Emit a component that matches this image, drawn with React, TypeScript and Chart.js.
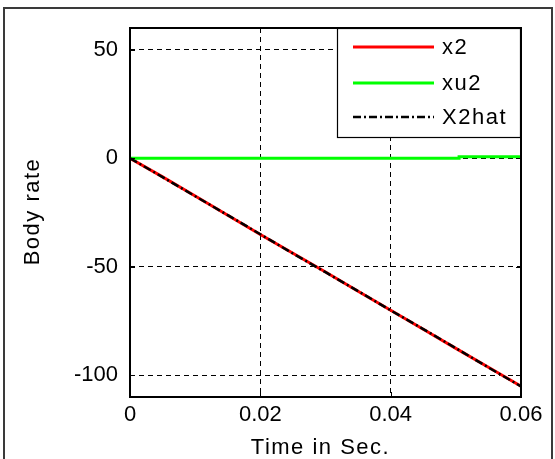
import React, { useEffect, useRef } from "react";
import { Chart, registerables } from "chart.js";

Chart.register(...registerables);

// ---- data ----
const timeX2 = [0, 0.005, 0.01, 0.015, 0.02, 0.025, 0.03, 0.035, 0.04, 0.045, 0.05, 0.055, 0.06];
const x2Values = [0, -8.6, -17.4, -26.3, -35.1, -43.8, -52.4, -61.3, -70.0, -78.8, -87.6, -96.3, -105.0];
const x2hatValues = [0, -8.7, -17.5, -26.2, -35.0, -43.9, -52.5, -61.2, -70.1, -78.7, -87.5, -96.4, -105.1];
const timeXu2 = [0, 0.01, 0.02, 0.03, 0.04, 0.0505, 0.0505, 0.06];
const xu2Values = [0, 0, 0, 0, 0, 0, 0.7, 0.7];

const xTicks = [0, 0.02, 0.04, 0.06];
const xTickLabels = ["0", "0.02", "0.04", "0.06"];
const yTicks = [-100, -50, 0, 50];
const yTickLabels = ["-100", "-50", "0", "50"];
const seriesLabels = ["x2", "xu2", "X2hat"];
const xTitle = "Time in Sec.";
const yTitle = "Body rate";

const FONT = "'Liberation Sans', Arial, sans-serif";

const decorPlugin = {
  id: "decor",
  beforeDraw(chart: any) {
    const ctx = chart.ctx;
    ctx.save();
    ctx.fillStyle = "#fff";
    ctx.fillRect(0, 0, chart.width, chart.height);
    ctx.strokeStyle = "#3a3a3a";
    ctx.lineWidth = 2;
    ctx.strokeRect(4, 8, 548, 470);
    ctx.restore();
  },
  afterDatasetsDraw(chart: any) {
    const ctx = chart.ctx;
    const a = chart.chartArea;
    const xs = chart.scales.x;
    const ys = chart.scales.y;
    ctx.save();
    // inward ticks
    ctx.strokeStyle = "#000";
    ctx.lineWidth = 1;
    ctx.setLineDash([]);
    const tl = 5;
    xTicks.forEach((v) => {
      const px = Math.round(xs.getPixelForValue(v)) + 0.5;
      ctx.beginPath();
      ctx.moveTo(px, a.bottom);
      ctx.lineTo(px, a.bottom - tl);
      ctx.moveTo(px, a.top);
      ctx.lineTo(px, a.top + tl);
      ctx.stroke();
    });
    yTicks.forEach((v) => {
      const py = Math.round(ys.getPixelForValue(v)) + 0.5;
      ctx.beginPath();
      ctx.moveTo(a.left, py);
      ctx.lineTo(a.left + tl, py);
      ctx.moveTo(a.right, py);
      ctx.lineTo(a.right - tl, py);
      ctx.stroke();
    });
    // axes box
    ctx.lineWidth = 2;
    ctx.strokeRect(a.left, a.top, a.right - a.left, a.bottom - a.top);

    // legend
    const lx = 337, ly = a.top, lw = a.right - 337, lh = 110;
    ctx.fillStyle = "#fff";
    ctx.fillRect(lx, ly, lw, lh);
    ctx.lineWidth = 1.2;
    ctx.strokeStyle = "#000";
    ctx.strokeRect(lx + 0.5, ly + 0.5, lw - 1, lh - 1);
    const rows = [47, 83, 117];
    chart.data.datasets.forEach((ds: any, i: number) => {
      const y = rows[i];
      ctx.beginPath();
      ctx.strokeStyle = ds.borderColor;
      ctx.lineWidth = ds.borderWidth;
      ctx.setLineDash(ds.borderDash || []);
      ctx.moveTo(353, y);
      ctx.lineTo(434, y);
      ctx.stroke();
      ctx.setLineDash([]);
      ctx.fillStyle = "#000";
      ctx.font = `22px ${FONT}`;
      (ctx as any).letterSpacing = "1.5px";
      ctx.textBaseline = "middle";
      ctx.textAlign = "left";
      ctx.fillText(ds.label, 442, y + 1);
    });

    // axis titles
    ctx.fillStyle = "#000";
    ctx.font = `22px ${FONT}`;
    (ctx as any).letterSpacing = "1.5px";
    ctx.textAlign = "center";
    ctx.textBaseline = "middle";
    ctx.fillText(xTitle, (a.left + a.right) / 2 - 5, 448);
    ctx.translate(33, (a.top + a.bottom) / 2 - 1);
    ctx.rotate(-Math.PI / 2);
    ctx.fillText(yTitle, 0, 0);
    ctx.restore();
  },
};

export default function App() {
  const ref = useRef<HTMLCanvasElement | null>(null);
  useEffect(() => {
    if (!ref.current) return;
    const chart = new Chart(ref.current, {
      type: "line",
      data: {
        datasets: [
          {
            label: seriesLabels[0],
            data: timeX2.map((t, i) => ({ x: t, y: x2Values[i] })),
            borderColor: "#ff0000",
            borderWidth: 3,
            pointRadius: 0,
            tension: 0,
            order: 3,
          },
          {
            label: seriesLabels[1],
            data: timeXu2.map((t, i) => ({ x: t, y: xu2Values[i] })),
            borderColor: "#00ff00",
            borderWidth: 3,
            pointRadius: 0,
            tension: 0,
            order: 2,
          },
          {
            label: seriesLabels[2],
            data: timeX2.map((t, i) => ({ x: t, y: x2hatValues[i] })),
            borderColor: "#000000",
            borderWidth: 2.5,
            borderDash: [8, 3, 2, 3],
            pointRadius: 0,
            tension: 0,
            order: 1,
          },
        ],
      },
      options: {
        responsive: false,
        animation: false,
        events: [],
        layout: { padding: { left: 0, top: 28, right: 34, bottom: 0 } },
        plugins: { legend: { display: false }, tooltip: { enabled: false }, title: { display: false } },
        scales: {
          x: {
            type: "linear",
            min: 0,
            max: 0.06,
            afterBuildTicks: (s: any) => {
              s.ticks = xTicks.map((v) => ({ value: v }));
            },
            afterFit: (s: any) => {
              s.height = 62;
            },
            ticks: {
              padding: 5,
              maxRotation: 0,
              autoSkip: false,
              color: "#000",
              font: { family: FONT, size: 22 },
              callback: (v: any) => xTickLabels[xTicks.indexOf(Number(v))] ?? "",
            },
            grid: { color: "#000", lineWidth: 1, drawTicks: false },
            border: { display: false, dash: [5, 4] },
          },
          y: {
            type: "linear",
            min: -110,
            max: 60,
            afterBuildTicks: (s: any) => {
              s.ticks = yTicks.map((v) => ({ value: v }));
            },
            afterFit: (s: any) => {
              s.width = 130;
            },
            ticks: {
              padding: 12,
              autoSkip: false,
              color: "#000",
              font: { family: FONT, size: 22 },
              callback: (v: any) => yTickLabels[yTicks.indexOf(Number(v))] ?? "",
            },
            grid: { color: "#000", lineWidth: 1, drawTicks: false },
            border: { display: false, dash: [5, 4] },
          },
        },
      },
      plugins: [decorPlugin],
    });
    return () => chart.destroy();
  }, []);
  return (
    <div style={{ position: "fixed", left: 0, top: 0, width: 555, height: 459 }}>
      <canvas ref={ref} width={555} height={459} />
    </div>
  );
}
